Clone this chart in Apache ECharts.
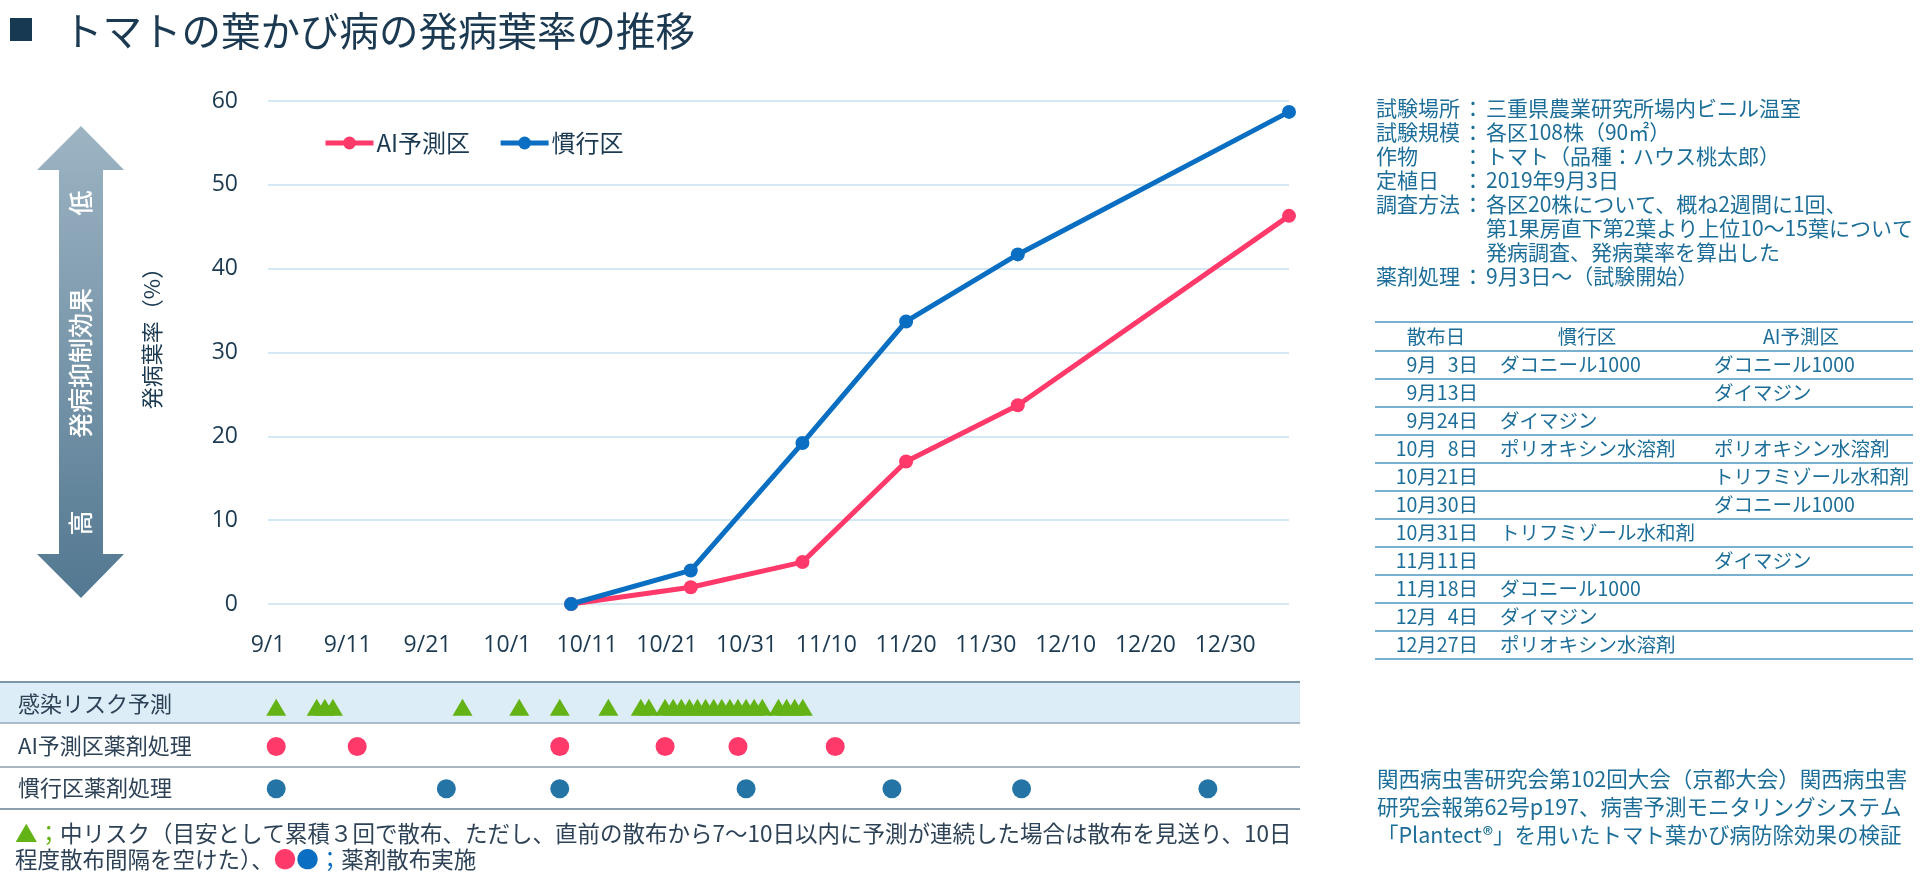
<!DOCTYPE html>
<html><head><meta charset="utf-8">
<script src="https://cdn.jsdelivr.net/npm/echarts@6/dist/echarts.min.js"></script>
<style>html,body{margin:0;padding:0;background:#fff}#c{width:1929px;height:883px}</style>
</head><body><div id="c"></div>
<script>
// ---------- data ----------
const titleText = 'トマトの葉かび病の発病葉率の推移';
const xTickLabels = ['9/1','9/11','9/21','10/1','10/11','10/21','10/31','11/10','11/20','11/30','12/10','12/20','12/30'];
const yTickStep = 10;
const seriesNames = ['AI予測区', '慣行区'];
const surveyDates = ['10/9','10/24','11/7','11/20','12/4','1/7'];
const aiRate = [0, 2, 5, 17, 23.7, 46.3];
const convRate = [0, 4, 19.2, 33.7, 41.7, 58.7];
const rowNames = ['感染リスク予測', 'AI予測区薬剤処理', '慣行区薬剤処理'];
const riskDates = ['9/3','9/8','9/9','9/10','9/26','10/3','10/8','10/14','10/18','10/19',
  '10/21','10/22','10/23','10/24','10/25','10/26','10/27','10/28','10/29','10/30','10/31','11/1','11/2',
  '11/4','11/5','11/6','11/7'];
const sprayDates = ['9/3','9/13','9/24','10/8','10/21','10/30','10/31','11/11','11/18','12/4','12/27'];
const sprayDateLabels = ['9月\u20073日','9月13日','9月24日','10月\u20078日','10月21日','10月30日','10月31日','11月11日','11月18日','12月\u20074日','12月27日'];
const convAgents = ['ダコニール1000','','ダイマジン','ポリオキシン水溶剤','','','トリフミゾール水和剤','','ダコニール1000','ダイマジン','ポリオキシン水溶剤'];
const aiAgents = ['ダコニール1000','ダイマジン','','ポリオキシン水溶剤','トリフミゾール水和剤','ダコニール1000','','ダイマジン','','',''];
const tableHeader = ['散布日','慣行区','AI予測区'];
const infoLabels = ['試験場所','試験規模','作物','定植日','調査方法','','','薬剤処理'];
const infoValues = ['三重県農業研究所場内ビニル温室','各区108株（90㎡）','トマト（品種：ハウス桃太郎）','2019年9月3日',
  '各区20株について、概ね2週間に1回、','第1果房直下第2葉より上位10～15葉について','発病調査、発病葉率を算出した','9月3日～（試験開始）'];
const citeLines = ['関西病虫害研究会第102回大会（京都大会）関西病虫害','研究会報第62号p197、病害予測モニタリングシステム','「Plantect®」を用いたトマト葉かび病防除効果の検証'];
const noteLine1 = '中リスク（目安として累積３回で散布、ただし、直前の散布から7～10日以内に予測が連続した場合は散布を見送り、10日';
const noteLine2 = '程度散布間隔を空けた）、';
const noteLine2b = '薬剤散布実施';
const yAxisTitle = '発病葉率（%）';
const arrowTexts = ['低', '発病抑制効果', '高'];

// ---------- helpers ----------
function dayOf(s) {
  const [m, d] = s.split('/').map(Number);
  const y = m >= 9 ? 2019 : 2020;
  return (Date.UTC(y, m - 1, d) - Date.UTC(2019, 8, 1)) / 86400000;
}
const RED = '#ff3a6a', BLUE = '#0a6fc2', DOTBLUE = '#2574a6', GREEN = '#63b317';
const NAVY = '#1b3a52', TEAL = '#1c6e99', LABEL = '#2d4256';
const JP = "'Noto Sans CJK JP', sans-serif";
const NUM = "'Open Sans', 'Noto Sans CJK JP', sans-serif";

const graphics = [];
// title
graphics.push({type:'rect', shape:{x:10,y:18,width:22,height:23}, style:{fill:'#173a52'}});
graphics.push({type:'text', x:63, y:31, style:{text:titleText, fill:NAVY, font:'39.5px ' + JP, verticalAlign:'middle'}});
// arrow
graphics.push({type:'polygon', shape:{points:[[81,126],[124,170],[103,170],[103,554],[124,554],[81,598],[37,554],[59,554],[59,170],[37,170]]},
  style:{fill:{type:'linear',x:0,y:0,x2:0,y2:1,colorStops:[{offset:0,color:'#9db4c3'},{offset:1,color:'#537891'}]}}});
[[203],[363],[523]].forEach((p, i) => {
  graphics.push({type:'text', x:80, y:p[0], rotation:Math.PI/2, style:{text:arrowTexts[i], fill:'#fff', font:'500 25px ' + JP, align:'center', verticalAlign:'middle'}});
});
// y axis title
graphics.push({type:'text', x:152, y:333, rotation:Math.PI/2, style:{text:yAxisTitle, fill:NAVY, font:'22px ' + JP, align:'center', verticalAlign:'middle'}});
// bottom rows background & lines
graphics.push({type:'rect', z:0, shape:{x:0,y:682,width:1300,height:41}, style:{fill:'#dcedf7'}});
[[682,'#7e96a9',2],[723,'#a9bccb',2],[767,'#8c9fae',1.5],[809,'#8c9fae',2]].forEach(l => {
  graphics.push({type:'line', z:1, shape:{x1:0,y1:l[0],x2:1300,y2:l[0]}, style:{stroke:l[1], lineWidth:l[2]}});
});
// footnote
const NF = '22.5px ' + JP;
graphics.push({type:'text', x:15, y:833, style:{text:'{g|▲；}' + noteLine1, fill:LABEL, font:NF, verticalAlign:'middle',
  rich:{g:{fill:GREEN, font:NF}}}});
graphics.push({type:'text', x:15, y:859, style:{text:noteLine2 + '{r|●}{b|●}{b|；}' + noteLine2b, fill:LABEL, font:NF, verticalAlign:'middle',
  rich:{r:{fill:RED, font:NF}, b:{fill:BLUE, font:NF}}}});
// info block
infoValues.forEach((v, i) => {
  const y = 108 + 24 * i;
  if (infoLabels[i]) {
    graphics.push({type:'text', x:1376, y:y, style:{text:infoLabels[i], fill:TEAL, font:'21px ' + JP, verticalAlign:'middle'}});
    graphics.push({type:'text', x:1473, y:y, style:{text:'：', fill:TEAL, font:'21px ' + JP, align:'center', verticalAlign:'middle'}});
  }
  graphics.push({type:'text', x:1486, y:y, style:{text:v, fill:TEAL, font:'21px ' + JP, verticalAlign:'middle'}});
});
// table
for (let i = 0; i <= sprayDates.length + 1; i++) {
  const y = i === 0 ? 322 : 351 + 28 * (i - 1);
  graphics.push({type:'line', shape:{x1:1375,y1:y,x2:1913,y2:y}, style:{stroke:'#79b0cf', lineWidth:2}});
}
const TF = '19.5px ' + JP;
graphics.push({type:'text', x:1436, y:337, style:{text:tableHeader[0], fill:TEAL, font:TF, align:'center', verticalAlign:'middle'}});
graphics.push({type:'text', x:1587, y:337, style:{text:tableHeader[1], fill:TEAL, font:TF, align:'center', verticalAlign:'middle'}});
graphics.push({type:'text', x:1801, y:337, style:{text:tableHeader[2], fill:TEAL, font:TF, align:'center', verticalAlign:'middle'}});
sprayDateLabels.forEach((d, r) => {
  const y = 365 + 28 * r;
  graphics.push({type:'text', x:1478, y:y, style:{text:d, fill:TEAL, font:TF, align:'right', verticalAlign:'middle'}});
  if (convAgents[r]) graphics.push({type:'text', x:1500, y:y, style:{text:convAgents[r], fill:TEAL, font:TF, verticalAlign:'middle'}});
  if (aiAgents[r]) graphics.push({type:'text', x:1714, y:y, style:{text:aiAgents[r], fill:TEAL, font:TF, verticalAlign:'middle'}});
});
// citation
citeLines.forEach((t, i) => {
  graphics.push({type:'text', x:1377, y:779 + 28 * i, style:{text:t, fill:TEAL, font:'21.5px ' + JP, verticalAlign:'middle'}});
});

const aiSprays = sprayDates.filter((d, i) => aiAgents[i]);
const convSprays = sprayDates.filter((d, i) => convAgents[i]);

const option = {
  animation: false,
  backgroundColor: '#fff',
  graphic: {elements: graphics},
  legend: {
    data: seriesNames, left: 318, top: 126, itemWidth: 48, itemHeight: 16, itemGap: 28,
    lineStyle: {width: 5},
    textStyle: {fontSize: 24, fontFamily: JP, color: NAVY, padding: [0, 0, 0, -2]}
  },
  grid: [
    {left: 268, top: 101, width: 1021, height: 503},
    {left: 260, top: 682, width: 1037, height: 127}
  ],
  xAxis: [
    {type: 'value', gridIndex: 0, min: 0, max: 128, interval: 10,
     axisLine: {show: false}, axisTick: {show: false}, splitLine: {show: false},
     axisLabel: {margin: 30, color: NAVY, fontSize: 23, fontFamily: NUM,
       formatter: v => (v % 10 === 0 && xTickLabels[v / 10]) ? xTickLabels[v / 10] : ''}},
    {type: 'value', gridIndex: 1, min: 0, max: 128, show: false}
  ],
  yAxis: [
    {type: 'value', gridIndex: 0, min: 0, max: 60, interval: yTickStep,
     axisLine: {show: false}, axisTick: {show: false},
     splitLine: {lineStyle: {color: '#d3e7f4', width: 2}},
     axisLabel: {margin: 30, color: NAVY, fontSize: 23, fontFamily: NUM}},
    {type: 'category', gridIndex: 1, data: rowNames, inverse: true,
     axisLine: {show: false}, axisTick: {show: false}, splitLine: {show: false},
     axisLabel: {align: 'left', margin: 242, color: LABEL, fontSize: 22, fontFamily: JP}}
  ],
  series: [
    {name: seriesNames[0], type: 'line', xAxisIndex: 0, yAxisIndex: 0, z: 3,
     data: surveyDates.map((d, i) => [dayOf(d), aiRate[i]]),
     color: RED, lineStyle: {width: 5, color: RED}, itemStyle: {color: RED},
     symbol: 'circle', symbolSize: 14},
    {name: seriesNames[1], type: 'line', xAxisIndex: 0, yAxisIndex: 0, z: 4,
     data: surveyDates.map((d, i) => [dayOf(d), convRate[i]]),
     color: BLUE, lineStyle: {width: 5, color: BLUE}, itemStyle: {color: BLUE},
     symbol: 'circle', symbolSize: 14},
    {type: 'scatter', xAxisIndex: 1, yAxisIndex: 1, z: 5,
     data: riskDates.map(d => [dayOf(d), rowNames[0]]),
     symbol: 'triangle', symbolSize: [20, 17], symbolOffset: [0, 4], itemStyle: {color: GREEN, opacity: 1}},
    {type: 'scatter', xAxisIndex: 1, yAxisIndex: 1, z: 5,
     data: aiSprays.map(d => [dayOf(d), rowNames[1]]),
     symbol: 'circle', symbolSize: 19, symbolOffset: [0, 1], itemStyle: {color: RED, opacity: 1}},
    {type: 'scatter', xAxisIndex: 1, yAxisIndex: 1, z: 5,
     data: convSprays.map(d => [dayOf(d), rowNames[2]]),
     symbol: 'circle', symbolSize: 19, symbolOffset: [0, 1], itemStyle: {color: DOTBLUE, opacity: 1}}
  ]
};
const chart = echarts.init(document.getElementById('c'), null, {renderer: 'canvas'});
chart.setOption(option);
</script>
</body></html>
